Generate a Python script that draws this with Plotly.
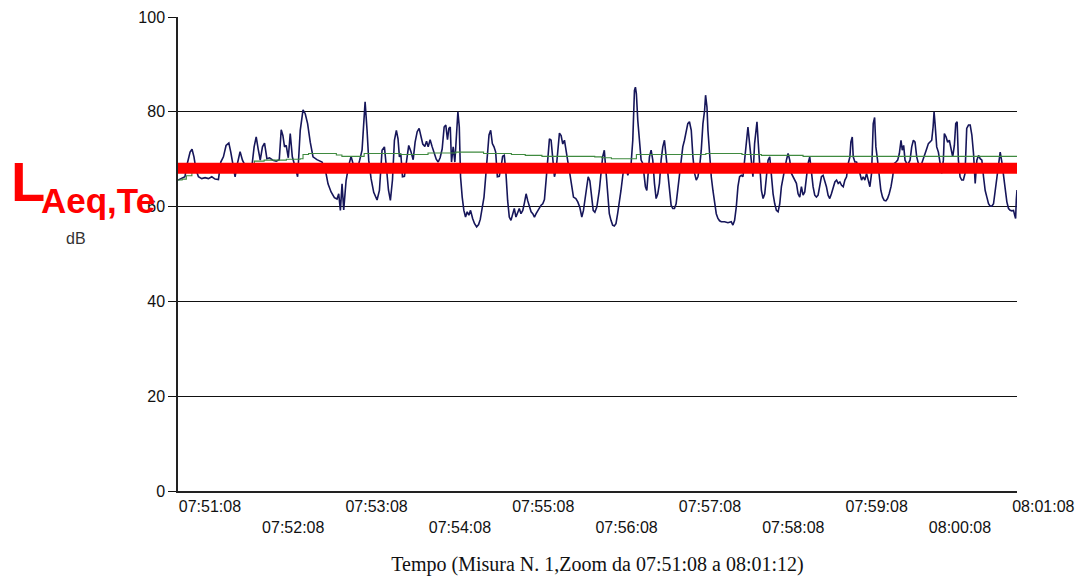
import pandas as pd
import plotly.graph_objects as go

# Measurement window
START = pd.Timestamp("2000-01-01 07:51:08")
DURATION_S = 604  # 07:51:08 -> 08:01:12

# Short-time sound level, seconds from start
t_sec = [
    0.0, 2.6, 5.0, 6.7, 8.7, 10.1, 11.5, 13.0, 14.7, 17.1, 19.5, 21.9, 24.3, 26.7, 29.1,
    30.8, 32.7, 34.6, 36.6, 38.0, 39.4, 41.1, 42.8, 44.7, 46.4, 48.3, 50.7, 53.2, 54.8,
    56.3, 57.7, 59.2, 60.8, 62.3, 64.0, 65.9, 68.3, 70.7, 72.9, 74.3, 75.5, 76.7, 77.9,
    79.4, 80.8, 82.3, 84.2, 86.1, 88.0, 90.0, 91.6, 93.3, 95.2, 97.2, 100.0, 103.7, 106.1,
    108.0, 110.2, 112.6, 114.5, 115.7, 116.9, 118.1, 119.3, 121.0, 122.9, 124.6, 126.5,
    128.9, 130.8, 132.5, 133.7, 134.7, 136.1, 137.3, 139.0, 140.9, 143.3, 145.0,
    146.9, 148.6, 150.0, 151.5, 152.9, 154.4, 155.8, 157.2, 158.4, 159.4, 160.4, 161.6,
    163.0, 164.5, 166.1, 167.6, 169.3, 170.7, 172.2, 173.6, 174.8, 176.2, 177.7, 178.9,
    180.1, 181.5, 183.0, 184.4, 185.9, 187.3, 188.7, 190.2, 191.6, 192.8, 194.0, 195.0,
    196.0, 196.9, 198.1, 199.3, 200.5, 201.5, 202.5, 203.4, 204.6, 205.8, 207.0, 208.2,
    209.4, 210.6, 212.1, 213.5, 215.0, 216.4, 217.6, 218.8, 220.3, 221.5, 222.7, 223.9,
    225.1, 226.3, 227.5, 228.7, 229.9, 231.3, 232.5, 233.7, 234.9, 236.1, 237.3, 238.5,
    239.7, 240.9, 242.1, 243.3, 244.5, 245.7, 246.9, 248.2, 249.4, 250.6, 251.8, 253.0,
    254.2, 255.4, 256.6, 257.8, 259.0, 260.2, 261.4, 262.6, 263.8, 265.0, 266.2, 267.4,
    268.6, 269.8, 271.0, 272.2, 273.4, 274.6, 275.8, 277.0, 278.2, 279.4, 280.6, 281.8,
    283.0, 284.7, 286.4, 287.8, 289.3, 290.7, 291.9, 293.1, 294.3, 295.3, 296.5, 297.7,
    298.9, 300.1, 301.5,
    303.3, 304.5, 305.7, 306.9, 307.6, 308.6, 309.3, 310.5, 311.7, 312.9, 314.1, 315.3,
    316.5, 317.7, 318.9, 320.1, 321.4, 322.6, 323.8, 325.0, 326.2, 327.4, 328.6, 329.3,
    330.0, 331.0, 332.2, 333.4, 334.6, 335.8, 336.5, 337.5, 338.2, 339.4, 340.6, 341.8,
    343.0, 344.2, 345.4, 346.6, 347.8, 349.0, 350.2, 351.4, 352.6, 353.8, 355.0, 356.2,
    357.4, 358.6, 359.8, 361.0, 362.2, 363.4, 364.6, 365.8, 367.0, 368.2, 369.5, 370.7,
    371.9, 373.1, 374.3, 375.5, 376.7, 377.9, 379.1, 379.8, 380.8, 381.5, 382.7, 383.9,
    385.1, 386.3, 387.5, 388.7, 389.9, 391.1, 393.5, 395.9, 398.3, 399.5, 400.7, 401.9,
    403.1, 404.3, 405.5, 406.7, 407.9, 409.1, 410.3, 411.5, 412.7, 413.9, 415.1, 415.9,
    416.8, 417.6, 418.8, 420.0, 421.2, 422.4, 423.6, 424.8, 426.0, 427.2, 428.4, 429.6,
    430.8, 432.0, 433.2, 434.4, 435.6, 436.8, 438.0, 439.2, 440.4, 441.6, 442.8, 444.0,
    445.2, 446.4, 447.6, 448.8, 450.0, 451.2,
    452.4, 453.6, 454.8, 456.0, 457.2, 458.4, 459.6, 460.8, 462.0, 463.2, 464.4, 465.6,
    466.8, 468.0, 469.2, 470.4, 471.6, 472.9, 474.1, 475.3, 476.5, 477.7, 478.9, 480.1,
    481.3, 482.5, 483.7, 484.4, 485.4, 486.1, 487.3, 488.5, 489.7, 490.9, 492.1, 493.3,
    494.5, 495.7, 496.9, 498.1, 499.3, 500.5, 501.5, 502.4, 503.6, 504.8, 506.0, 507.2,
    508.4, 509.6, 510.8, 512.0, 513.3, 514.5, 515.7, 516.9, 518.1, 519.3, 520.5, 521.4,
    522.4, 523.4, 524.6, 525.8, 527.0, 528.2, 529.4, 530.6, 531.8, 533.0, 534.2, 535.4,
    536.6, 537.8, 539.0, 540.2, 541.4, 542.6, 543.6, 544.3, 545.0, 546.2, 547.4, 548.6,
    549.8, 551.0, 551.7, 552.9, 554.1, 555.3, 556.5, 557.7, 558.9, 559.9, 560.9, 561.8,
    563.0, 564.2, 565.4, 566.6, 567.8, 569.1, 570.3, 571.5, 572.7, 573.9, 575.1, 576.3,
    577.5, 578.7, 579.9, 581.1, 582.3, 583.5, 584.7, 585.9, 587.1, 588.3, 589.5, 590.7,
    591.9, 593.1, 594.3, 595.5, 596.7, 597.9, 599.1, 600.3, 601.5, 602.3, 603.0, 603.5,
    604.0,
]
level_db = [
    65.6, 65.9, 66.3, 69.1, 71.5, 72.1, 70.5, 67.7, 66.3, 65.9, 66.1, 65.9, 66.3, 65.8, 65.7,
    69.4, 70.5, 72.9, 73.4, 71.5, 69.1, 66.3, 69.1, 71.6, 69.8, 68.7, 68.2, 68.5, 72.6,
    74.7, 72.2, 69.8, 72.6, 73.4, 70.1, 70.3, 69.8, 69.6, 69.9, 76.2, 75.0, 72.6, 72.9,
    70.3, 75.4, 70.5, 68.5, 66.3, 76.1, 80.4, 79.6, 77.5, 73.6, 70.5, 69.9, 69.4, 67.7,
    64.8, 63.1, 61.9, 61.6, 62.7, 59.2, 64.8, 59.3, 65.5, 68.7, 70.6, 68.5,
    67.7, 69.8, 71.9, 77.5, 82.1, 76.1, 69.8, 65.9, 63.0, 61.4, 63.4,
    71.9, 72.6, 68.4, 63.5, 61.3, 65.6, 74.0, 76.1, 74.3, 70.5, 71.2, 66.3,
    66.4, 69.8, 72.9, 71.7, 69.9, 73.6, 75.8, 76.5, 75.1, 73.2, 72.7, 73.8,
    72.6, 74.1, 72.6, 71.3, 70.0, 69.4, 70.3, 72.2, 76.8, 77.2, 74.1, 76.5,
    76.8, 69.4, 72.6, 69.4, 76.8, 80.0, 76.8, 66.3, 62.0, 59.2, 57.8, 58.9,
    58.2, 59.2, 57.5, 56.4, 55.7, 56.2, 57.3, 59.2, 62.0, 66.3, 71.2, 75.1,
    76.1, 73.3, 72.6, 71.5, 66.3, 66.4, 68.2, 70.6, 70.8, 67.0, 61.3, 57.8,
    57.1, 58.7, 59.6, 57.8, 58.9, 59.6, 58.5, 59.2, 60.8, 62.7, 61.2, 59.8,
    58.9, 58.5, 57.8, 58.5, 59.2, 59.9, 60.3, 60.6, 61.5, 65.6, 69.9, 74.3,
    74.0, 70.3, 66.3, 67.8, 71.9, 75.5, 75.0, 73.2, 74.0, 71.3, 69.6, 67.5,
    64.7, 62.0, 61.7, 61.0, 59.8, 57.8, 59.2, 62.0, 64.9, 66.3, 65.4, 62.0,
    59.2, 58.8, 59.9,
    63.4, 66.3, 70.5, 71.9, 69.1, 66.3, 62.0, 58.5, 57.1, 56.1, 55.9, 56.4,
    58.5, 60.6, 63.4, 66.3, 69.1, 68.4, 66.6, 67.7, 69.1, 74.0, 84.5, 85.2,
    83.8, 78.2, 74.0, 69.8, 69.1, 66.3, 64.2, 63.4, 67.0, 70.5, 71.9, 69.8,
    64.9, 61.7, 62.7, 64.9, 69.8, 72.6, 74.0, 70.5, 66.3, 62.7, 60.3, 59.6,
    59.6, 60.6, 63.4, 67.0, 69.8, 72.6, 74.0, 76.1, 77.5, 77.9, 76.1, 70.5,
    67.0, 65.6, 66.3, 68.4, 71.9, 77.5, 80.3, 83.5, 81.0, 76.1, 70.5, 66.3,
    63.4, 60.6, 58.5, 57.5, 57.0, 56.8, 56.8, 56.6, 56.8, 56.1, 57.1, 59.9,
    64.2, 66.3, 66.6, 66.3, 69.8, 74.0, 76.8, 73.3, 69.8, 66.3, 73.3, 75.4,
    77.9, 74.0, 69.1, 63.4, 61.7, 62.7, 66.3, 69.8, 70.5, 66.3, 62.7, 60.6,
    59.2, 58.9, 60.6, 64.2, 66.3, 68.4, 69.8, 71.2, 69.8, 67.0, 66.3, 65.6,
    64.9, 62.7, 62.0, 64.2, 62.4, 63.1,
    66.3, 69.1, 70.5, 67.0, 64.2, 62.4, 62.0, 62.4, 64.9, 66.3, 66.6, 65.6,
    64.2, 62.4, 61.7, 62.7, 64.2, 65.2, 65.6, 64.9, 65.2, 64.5, 64.2, 65.6,
    66.3, 69.1, 70.5, 73.6, 74.7, 70.5, 69.4, 69.4, 68.4, 66.6, 65.6, 66.3,
    65.6, 67.0, 65.6, 64.2, 67.0, 77.5, 78.8, 72.6, 69.8, 66.3, 63.4, 62.0,
    61.3, 61.2, 61.7, 62.7, 64.2, 66.3, 69.1, 69.4, 69.8, 71.2, 74.0, 71.9,
    72.9, 69.8, 69.1, 69.1, 69.8, 72.6, 74.0, 73.6, 70.5, 69.1, 68.4, 69.1,
    70.1, 70.8, 72.2, 73.3, 73.6, 74.0, 76.8, 80.0, 77.5, 72.6, 71.5, 69.1,
    67.0, 69.8, 75.4, 74.7, 73.6, 74.0, 71.9, 70.5, 72.9, 77.5, 77.9, 69.8,
    66.3, 65.6, 65.6, 67.0, 76.5, 77.2, 77.2, 75.1, 71.2, 64.9, 69.8, 70.8,
    70.1, 69.8, 66.3, 63.4, 62.0, 60.6, 60.1, 60.1, 60.6, 63.4, 67.0, 69.8,
    71.5, 69.4, 66.3, 63.4, 61.0, 59.6, 59.2, 59.1, 59.2, 58.2, 57.5, 61.5,
    63.5,
]

# Running equivalent level (Leq)
leq_t = [0, 3, 6, 10, 15, 20, 30, 36, 45, 55, 62, 72, 78, 88, 90, 94, 110, 114, 118,
         133, 134, 150, 160, 180, 200, 215, 220, 240, 250, 262, 300, 305, 312, 327, 330,
         378, 380, 404, 406, 420, 450, 604]
leq_db = [65.6, 65.8, 66.5, 67.8, 67.9, 67.6, 67.5, 68.3, 68.8, 69.6, 69.8, 69.8, 70.0,
          70.1, 71.0, 71.2, 71.2, 70.9, 70.6, 70.6, 71.2, 71.2, 71.0, 71.3, 71.5, 71.5,
          71.2, 71.0, 70.8, 70.6, 70.5, 70.3, 70.1, 70.1, 71.0, 71.0, 71.2, 71.2, 71.0,
          70.8, 70.6, 70.6]

# Equivalent level over the reference time
laeq_te = 68.1

tick_labels = ["07:51:08", "07:52:08", "07:53:08", "07:54:08", "07:55:08", "07:56:08",
               "07:57:08", "07:58:08", "07:59:08", "08:00:08", "08:01:08"]
y_ticks = [0, 20, 40, 60, 80, 100]


def to_time(seconds):
    return [START + pd.Timedelta(seconds=s) for s in seconds]


end_time = START + pd.Timedelta(seconds=DURATION_S)
tick_vals = [pd.Timestamp(START.strftime("%Y-%m-%d ") + lab) for lab in tick_labels]
tick_text = [lab if i % 2 == 0 else "<br>" + lab for i, lab in enumerate(tick_labels)]

fig = go.Figure()

fig.add_trace(go.Scatter(
    x=to_time(t_sec), y=level_db, mode="lines",
    line=dict(color="#16165a", width=1.6), hoverinfo="skip", showlegend=False,
))
fig.add_trace(go.Scatter(
    x=to_time(leq_t), y=leq_db, mode="lines", line_shape="hv",
    line=dict(color="#3f8a3f", width=1.1), hoverinfo="skip", showlegend=False,
))
fig.add_trace(go.Scatter(
    x=[START, end_time], y=[laeq_te, laeq_te], mode="lines",
    line=dict(color="#ff0000", width=11), hoverinfo="skip", showlegend=False,
))

axis_font = dict(family="Liberation Sans, Arial, sans-serif", size=16, color="#111111")

fig.update_layout(
    width=1080, height=576,
    margin=dict(l=178, r=63, t=17, b=85),
    paper_bgcolor="white", plot_bgcolor="white",
    showlegend=False,
    xaxis=dict(
        type="date", range=[START, end_time], automargin=False,
        tickmode="array", tickvals=tick_vals, ticktext=tick_text,
        ticklabelposition="outside right", ticks="",
        tickfont=axis_font,
        showgrid=False, zeroline=False,
        showline=True, linecolor="#222222", linewidth=1.5,
        title=dict(text="Tempo (Misura N. 1,Zoom da 07:51:08 a 08:01:12)",
                   font=dict(family="Liberation Serif, Times New Roman, serif", size=20,
                             color="#111111"),
                   standoff=24),
    ),
    yaxis=dict(
        range=[0, 100], tickmode="array", tickvals=y_ticks, automargin=False,
        ticks="outside", ticklen=8, tickcolor="#111111", tickwidth=1,
        tickfont=axis_font,
        showgrid=True, gridcolor="#111111", gridwidth=1,
        zeroline=False, showline=True, linecolor="#222222", linewidth=1.5,
    ),
    annotations=[
        dict(text="L", xref="paper", yref="paper", x=-0.2014, y=0.652,
             xanchor="left", yanchor="middle", showarrow=False,
             font=dict(family="Liberation Sans, Arial, sans-serif", size=56,
                       color="#ff0000", weight="bold")),
        dict(text="Aeq,Te", xref="paper", yref="paper", x=-0.166, y=0.612,
             xanchor="left", yanchor="middle", showarrow=False,
             font=dict(family="Liberation Sans, Arial, sans-serif", size=35,
                       color="#ff0000", weight="bold")),
        dict(text="dB", xref="paper", yref="paper", x=-0.1216, y=0.532,
             xanchor="center", yanchor="middle", showarrow=False,
             font=dict(family="Liberation Sans, Arial, sans-serif", size=16,
                       color="#333333")),
    ],
)

fig.write_html("out.html")
